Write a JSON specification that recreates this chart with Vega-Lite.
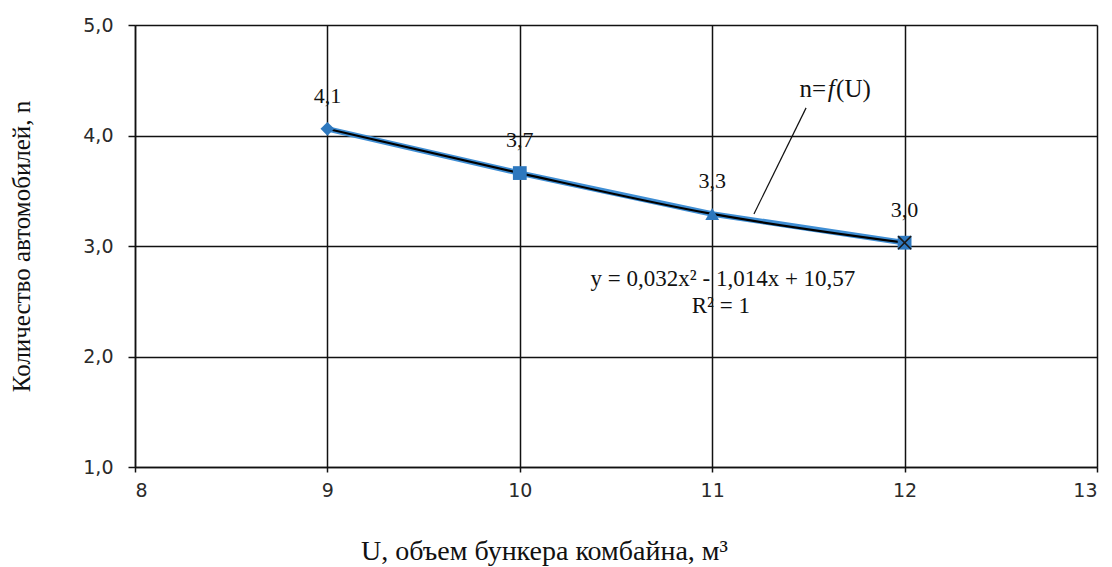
{
  "$schema": "https://vega.github.io/schema/vega-lite/v6.json",
  "autosize": "none",
  "width": 962,
  "height": 442,
  "padding": {"left": 135, "top": 25, "right": 15, "bottom": 100},
  "background": "white",
  "config": {
    "locale": {"number": {"decimal": ",", "thousands": " ", "grouping": [3], "currency": ["", ""]}},
    "view": {"stroke": null},
    "axis": {
      "domainColor": "#111111",
      "domainWidth": 1.5,
      "gridColor": "#111111",
      "gridWidth": 1.5,
      "tickColor": "#111111",
      "tickWidth": 1.5,
      "labelFont": "DejaVu Sans",
      "labelFontSize": 19,
      "labelColor": "#2a2a2a",
      "titleFont": "Liberation Serif",
      "titleFontWeight": "normal",
      "titleColor": "#111111"
    }
  },
  "datasets": {
    "points": [
      {"U": 9, "n": 4.06, "marker": "m1"},
      {"U": 10, "n": 3.66, "marker": "m2"},
      {"U": 11, "n": 3.29, "marker": "m3"},
      {"U": 12, "n": 3.03, "marker": "m4"}
    ],
    "leader": [{"x1": 11.488, "y1": 4.25, "x2": 11.217, "y2": 3.29}],
    "notes": [
      {"x": 11.618, "y": 4.42, "text": "n=", "part": "a"},
      {"x": 11.618, "y": 4.42, "text": "f", "part": "b"},
      {"x": 11.618, "y": 4.42, "text": "(U)", "part": "c"},
      {"x": 11.056, "y": 2.70, "text": "y = 0,032x² - 1,014x + 10,57", "part": "eq"},
      {"x": 11.045, "y": 2.457, "text": "R² = 1", "part": "eq"}
    ]
  },
  "layer": [
    {
      "data": {"name": "points"},
      "mark": {"type": "line", "color": "#3F8ED4", "strokeWidth": 5.5},
      "encoding": {
        "x": {
          "field": "U", "type": "quantitative",
          "scale": {"domain": [8, 13], "nice": false},
          "axis": {
            "values": [8, 9, 10, 11, 12, 13],
            "format": "d",
            "title": "U, объем бункера комбайна, м³",
            "titleFontSize": 28,
            "titleAlign": "center",
            "titleBaseline": "alphabetic",
            "titleX": 409,
            "titleY": 92,
            "tickSize": 5,
            "labelPadding": 9,
            "grid": true
          }
        },
        "y": {
          "field": "n", "type": "quantitative",
          "scale": {"domain": [1, 5], "nice": false},
          "axis": {
            "values": [1, 2, 3, 4, 5],
            "format": ".1f",
            "title": "Количество автомобилей, n",
            "titleFontSize": 25,
            "titleAngle": -90,
            "titleAlign": "center",
            "titleBaseline": "alphabetic",
            "titleX": -106,
            "titleY": 221,
            "tickSize": 7,
            "labelPadding": 15,
            "grid": true
          }
        }
      }
    },
    {
      "data": {"name": "points"},
      "mark": {"type": "line", "color": "black", "strokeWidth": 2.2, "interpolate": "monotone"},
      "encoding": {
        "x": {"field": "U", "type": "quantitative"},
        "y": {"field": "n", "type": "quantitative"}
      }
    },
    {
      "data": {"name": "points"},
      "mark": {"type": "point", "filled": true, "opacity": 1, "size": 190, "color": "#2E78BE"},
      "encoding": {
        "x": {"field": "U", "type": "quantitative"},
        "y": {"field": "n", "type": "quantitative"},
        "shape": {
          "field": "marker", "type": "nominal",
          "scale": {"domain": ["m1", "m2", "m3", "m4"], "range": ["diamond", "square", "triangle-up", "square"]},
          "legend": null
        }
      }
    },
    {
      "data": {"name": "points"},
      "transform": [{"filter": "datum.U == 12"}],
      "mark": {"type": "point", "shape": "M-1,-1L1,1M1,-1L-1,1", "size": 170, "stroke": "#1a1a1a", "strokeWidth": 1.6, "filled": false, "opacity": 1},
      "encoding": {
        "x": {"field": "U", "type": "quantitative"},
        "y": {"field": "n", "type": "quantitative"}
      }
    },
    {
      "data": {"name": "points"},
      "mark": {"type": "text", "font": "Liberation Serif", "fontSize": 22, "dy": -33, "color": "#111111", "baseline": "middle"},
      "encoding": {
        "x": {"field": "U", "type": "quantitative"},
        "y": {"field": "n", "type": "quantitative"},
        "text": {"field": "n", "type": "quantitative", "format": ".1f"}
      }
    },
    {
      "data": {"name": "leader"},
      "mark": {"type": "rule", "color": "#111111", "strokeWidth": 1.2},
      "encoding": {
        "x": {"field": "x1", "type": "quantitative"},
        "y": {"field": "y1", "type": "quantitative"},
        "x2": {"field": "x2"},
        "y2": {"field": "y2"}
      }
    },
    {
      "data": {"name": "notes"},
      "transform": [{"filter": "datum.part == 'eq'"}],
      "mark": {"type": "text", "font": "Liberation Serif", "fontSize": 23, "color": "#111111", "align": "center", "baseline": "middle"},
      "encoding": {
        "x": {"field": "x", "type": "quantitative"},
        "y": {"field": "y", "type": "quantitative"},
        "text": {"field": "text"}
      }
    },
    {
      "data": {"name": "notes"},
      "transform": [{"filter": "datum.part == 'a'"}],
      "mark": {"type": "text", "font": "Liberation Serif", "fontSize": 25, "color": "#111111", "align": "right", "baseline": "middle", "dx": -5},
      "encoding": {
        "x": {"field": "x", "type": "quantitative"},
        "y": {"field": "y", "type": "quantitative"},
        "text": {"field": "text"}
      }
    },
    {
      "data": {"name": "notes"},
      "transform": [{"filter": "datum.part == 'b'"}],
      "mark": {"type": "text", "font": "Liberation Serif", "fontSize": 25, "fontStyle": "italic", "color": "#111111", "align": "center", "baseline": "middle"},
      "encoding": {
        "x": {"field": "x", "type": "quantitative"},
        "y": {"field": "y", "type": "quantitative"},
        "text": {"field": "text"}
      }
    },
    {
      "data": {"name": "notes"},
      "transform": [{"filter": "datum.part == 'c'"}],
      "mark": {"type": "text", "font": "Liberation Serif", "fontSize": 25, "color": "#111111", "align": "left", "baseline": "middle", "dx": 5},
      "encoding": {
        "x": {"field": "x", "type": "quantitative"},
        "y": {"field": "y", "type": "quantitative"},
        "text": {"field": "text"}
      }
    }
  ]
}
